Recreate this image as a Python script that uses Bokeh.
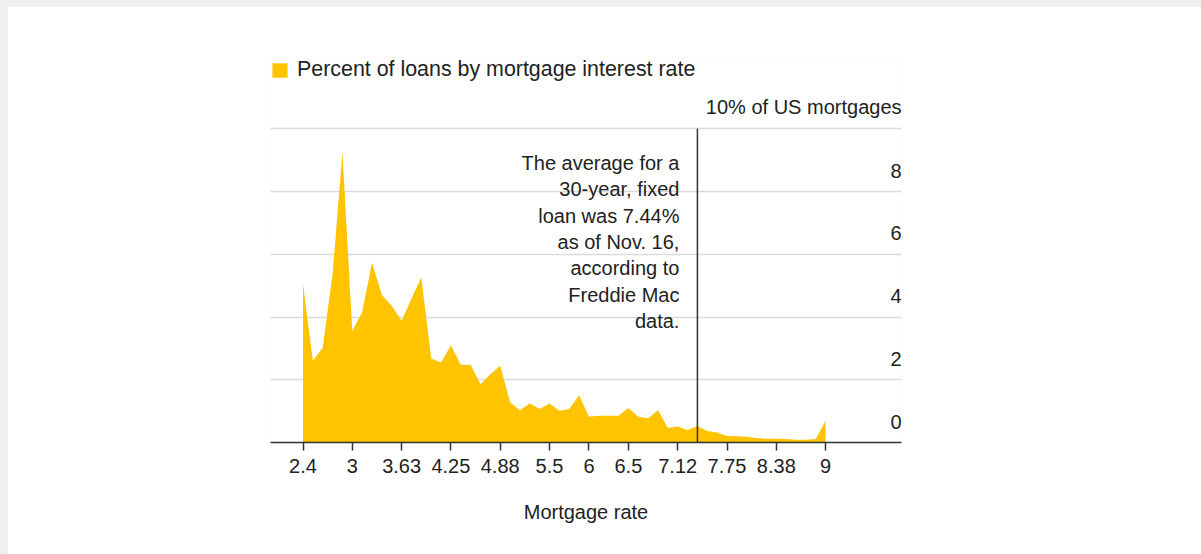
from bokeh.plotting import figure
from bokeh.models import FixedTicker, Legend, LegendItem
from bokeh.core.properties import value
from bokeh.layouts import column
from bokeh.embed import file_html
from bokeh.resources import INLINE

# ---- data ----
rates = [2.375, 2.5, 2.625, 2.75, 2.875, 3.0, 3.125, 3.25, 3.375, 3.5,
         3.625, 3.75, 3.875, 4.0, 4.125, 4.25, 4.375, 4.5, 4.625, 4.75,
         4.875, 5.0, 5.125, 5.25, 5.375, 5.5, 5.625, 5.75, 5.875, 6.0,
         6.125, 6.25, 6.375, 6.5, 6.625, 6.75, 6.875, 7.0, 7.125, 7.25,
         7.375, 7.5, 7.625, 7.75, 7.875, 8.0, 8.125, 8.25, 8.375, 8.5,
         8.625, 8.75, 8.875, 9.0]
share = [5.05, 2.61, 3.03, 5.37, 9.25, 3.56, 4.15, 5.74, 4.70, 4.36,
         3.88, 4.58, 5.27, 2.68, 2.55, 3.09, 2.48, 2.48, 1.86, 2.18,
         2.45, 1.28, 1.03, 1.24, 1.07, 1.24, 1.01, 1.07, 1.51, 0.82,
         0.85, 0.85, 0.85, 1.10, 0.82, 0.77, 1.03, 0.46, 0.51, 0.40,
         0.53, 0.37, 0.32, 0.21, 0.20, 0.18, 0.14, 0.12, 0.12, 0.11,
         0.09, 0.09, 0.11, 0.69]
tick_values = [2.375, 3, 3.625, 4.25, 4.875, 5.5, 6, 6.5, 7.125, 7.75, 8.375, 9]
tick_labels = ["2.4", "3", "3.63", "4.25", "4.88", "5.5", "6", "6.5",
               "7.12", "7.75", "8.38", "9"]
y_ticks = [0, 2, 4, 6, 8]
y_labels = ["0", "2", "4", "6", "8"]
grid_values = [0, 2, 4, 6, 8, 10]
top_value = 10
top_label = "10% of US mortgages"
avg_rate_bucket = 7.375
note = ("The average for a\n30-year, fixed\nloan was 7.44%\nas of Nov. 16,\n"
        "according to\nFreddie Mac\ndata.")
series_name = "Percent of loans by mortgage interest rate"
x_title = "Mortgage rate"

# ---- style ----
YELLOW = "#FFC300"
TEXT = "#222222"
FONT = "Liberation Sans"
X_START, X_END = 1.963, 9.962

p = figure(width=1194, height=548, x_range=(X_START, X_END), y_range=(0, 12.275),
           output_backend="svg", toolbar_location=None, y_axis_location=None,
           min_border_left=263, min_border_right=300, min_border_top=51,
           min_border_bottom=112)
p.outline_line_color = None
p.background_fill_color = "white"
p.border_fill_color = "white"

p.xgrid.visible = False
p.ygrid.ticker = FixedTicker(ticks=grid_values)
p.ygrid.grid_line_color = "#dadada"
p.ygrid.grid_line_width = 1.5

area = p.varea(x=rates, y1=0, y2=share, fill_color=YELLOW)

p.segment(x0=[avg_rate_bucket], y0=[0], x1=[avg_rate_bucket], y1=[top_value],
          line_color="#333333", line_width=1.5)

p.text(x=[avg_rate_bucket], y=[top_value], text=[note], x_offset=-18, y_offset=23,
       text_align="right", text_baseline="top", text_line_height=1.2,
       text_font=value(FONT), text_font_size="20px", text_color=TEXT)

p.text(x=[X_END] * len(y_ticks), y=y_ticks, text=y_labels, y_offset=-21,
       text_align="right", text_baseline="middle",
       text_font=value(FONT), text_font_size="20px", text_color=TEXT)
p.text(x=[X_END], y=[top_value], text=[top_label], y_offset=-22,
       text_align="right", text_baseline="middle",
       text_font=value(FONT), text_font_size="20px", text_color=TEXT)

ax = p.xaxis[0]
ax.ticker = FixedTicker(ticks=tick_values)
ax.major_label_overrides = dict(zip(tick_values, tick_labels))
ax.axis_line_color = "#333333"
ax.axis_line_width = 1.5
ax.major_tick_line_color = "#333333"
ax.major_tick_line_width = 1.5
ax.major_tick_out = 8
ax.major_tick_in = 0
ax.minor_tick_line_color = None
ax.major_label_text_font = FONT
ax.major_label_text_font_size = "20px"
ax.major_label_text_color = TEXT
ax.major_label_standoff = 8
ax.axis_label = x_title
ax.axis_label_text_font = FONT
ax.axis_label_text_font_size = "20px"
ax.axis_label_text_font_style = "normal"
ax.axis_label_text_color = TEXT
ax.axis_label_standoff = 25

legend = Legend(items=[LegendItem(label=series_name, renderers=[area])],
                location="top_left", margin=0, padding=2,
                glyph_width=19, glyph_height=18, label_standoff=8,
                label_text_font=FONT, label_text_font_size="21.4px",
                label_text_color=TEXT, border_line_color=None,
                background_fill_alpha=0)
p.add_layout(legend)

layout = column(p, styles={"background-color": "#efefef",
                           "padding-top": "6px", "padding-left": "7px"})

open("out.html", "w").write(file_html(layout, INLINE))
